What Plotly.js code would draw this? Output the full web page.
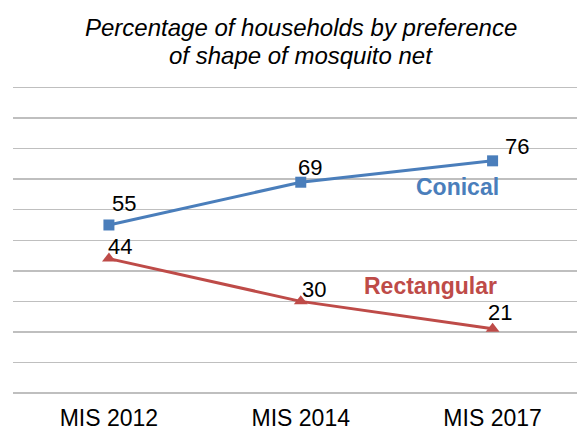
<!DOCTYPE html>
<html>
<head>
<meta charset="utf-8">
<script src="https://cdn.plot.ly/plotly-3.0.1.min.js"></script>
<style>html,body{margin:0;padding:0;background:#fff;}#chart{width:577px;height:432px;}</style>
</head>
<body>
<div id="chart"></div>
<script>
var categories = ["MIS 2012", "MIS 2014", "MIS 2017"];
var conical = [55, 69, 76];
var rectangular = [44, 30, 21];
var seriesNames = ["Conical", "Rectangular"];
var titleLines = ["Percentage of households by preference", "of shape of mosquito net"];

var blue = "#4A7EBB", red = "#BE4B48";
var xIdx = categories.map(function (c, i) { return i; });

var traces = [
  {x: xIdx, y: conical, mode: "lines+markers", name: seriesNames[0],
   line: {color: blue, width: 3}, marker: {symbol: "square", size: 11, color: blue}},
  {x: xIdx, y: rectangular, mode: "lines+markers", name: seriesNames[1],
   line: {color: red, width: 3}, marker: {symbol: "triangle-up", size: 12, color: red}}
];

var conOff = [[15, 21], [9, 15], [24, 14]];
var recOff = [[11, 12.5], [13.5, 12], [7, 16.5]];
var annotations = [];
function addLabels(vals, off) {
  vals.forEach(function (v, i) {
    annotations.push({x: i, y: v, xref: "x", yref: "y", text: String(v), showarrow: false,
      xanchor: "center", yanchor: "middle", xshift: off[i][0], yshift: off[i][1],
      font: {family: "Liberation Sans, Arial, sans-serif", size: 22, color: "#000"}});
  });
}
addLabels(conical, conOff);
addLabels(rectangular, recOff);

annotations.push({x: 2, y: 67.6, xref: "x", yref: "y", text: "<b>" + seriesNames[0] + "</b>", showarrow: false,
  xanchor: "right", yanchor: "middle", xshift: 8,
  font: {family: "Liberation Sans, Arial, sans-serif", size: 23, color: blue}});
annotations.push({x: 2, y: 34.9, xref: "x", yref: "y", text: "<b>" + seriesNames[1] + "</b>", showarrow: false,
  xanchor: "right", yanchor: "middle", xshift: 6,
  font: {family: "Liberation Sans, Arial, sans-serif", size: 23, color: red}});

annotations.push({x: 0.5098, y: 1.19, xref: "paper", yref: "paper", text: "<i>" + titleLines[0] + "</i>", showarrow: false,
  xanchor: "center", yanchor: "middle",
  font: {family: "Liberation Sans, Arial, sans-serif", size: 24, color: "#000"}});
annotations.push({x: 0.5098, y: 1.1, xref: "paper", yref: "paper", text: "<i>" + titleLines[1] + "</i>", showarrow: false,
  xanchor: "center", yanchor: "middle",
  font: {family: "Liberation Sans, Arial, sans-serif", size: 24, color: "#000"}});

var layout = {
  width: 577, height: 432,
  margin: {l: 13, r: 0, t: 85.5, b: 39.3, pad: 0},
  paper_bgcolor: "#fff", plot_bgcolor: "#fff",
  showlegend: false,
  xaxis: {range: [-0.5, 2.44], tickvals: xIdx, ticktext: categories, showgrid: false, zeroline: false,
    showline: false, ticks: "", ticklabelstandoff: 9,
    tickfont: {family: "Liberation Sans, Arial, sans-serif", size: 23, color: "#000"}, fixedrange: true},
  yaxis: {range: [0, 100.5], tick0: 0, dtick: 10, showticklabels: false, showgrid: true, gridcolor: "#BFBFBF", gridwidth: 1.5,
    zeroline: true, zerolinecolor: "#BFBFBF", zerolinewidth: 1.5, showline: false, ticks: "", fixedrange: true},
  annotations: annotations
};

Plotly.newPlot("chart", traces, layout, {displayModeBar: false, staticPlot: true});
</script>
</body>
</html>
